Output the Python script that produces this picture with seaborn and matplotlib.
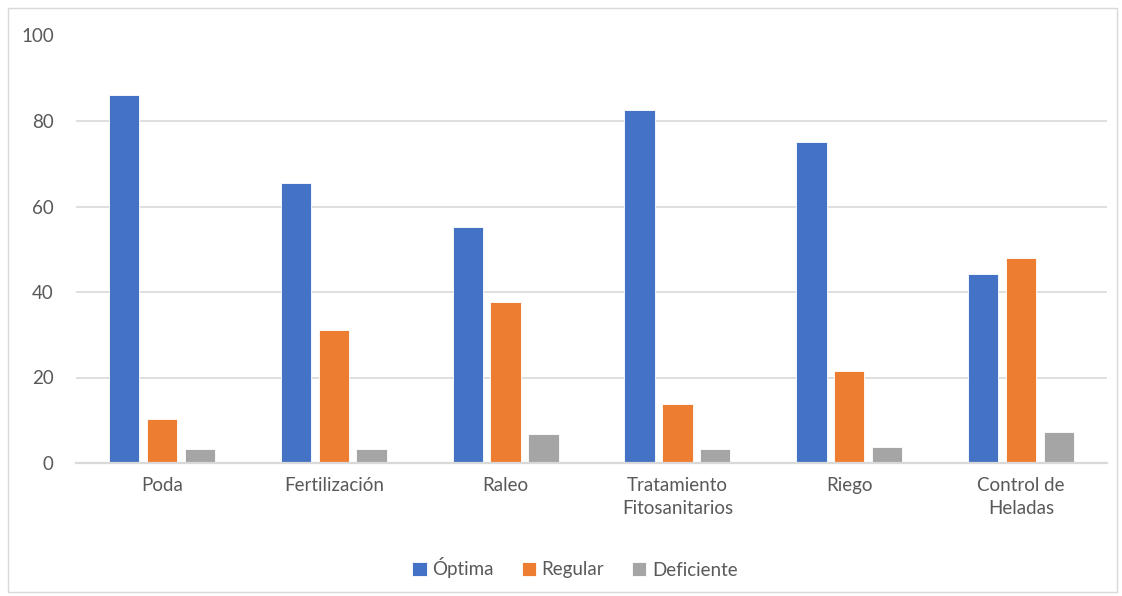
import matplotlib
matplotlib.use("Agg")
import matplotlib.pyplot as plt
import seaborn as sns
import pandas as pd
from matplotlib.patches import Rectangle

categories = ["Poda", "Fertilización", "Raleo", "Tratamiento\nFitosanitarios",
              "Riego", "Control de\nHeladas"]
series = ["Óptima", "Regular", "Deficiente"]
optima = [86.0, 65.5, 55.1, 82.5, 75.0, 44.2]
regular = [10.3, 31.1, 37.6, 13.7, 21.5, 48.0]
deficiente = [3.3, 3.3, 6.8, 3.3, 3.8, 7.2]
yticks = [0, 20, 40, 60, 80, 100]

df = pd.DataFrame({
    "Labor": categories * 3,
    "Serie": [s for s in series for _ in categories],
    "Valor": optima + regular + deficiente,
})

sns.set_theme(style="white")
plt.rcParams["font.family"] = ["Lato", "DejaVu Sans"]

palette = {"Óptima": "#4472C4", "Regular": "#ED7D31", "Deficiente": "#A5A5A5"}
text_color = "#595959"
grid_color = "#D9D9D9"

fig = plt.figure(figsize=(11.22, 5.96), dpi=100)
ax = fig.add_axes([76 / 1122, 1 - 463 / 596, (1107 - 76) / 1122, (463 - 35.5) / 596])

sns.barplot(data=df, x="Labor", y="Valor", hue="Serie", hue_order=series,
            order=categories, palette=palette, width=0.66, gap=0.2,
            edgecolor="white", linewidth=0.6, saturation=1, ax=ax, legend=True)

ax.set_ylim(0, 100)
ax.set_xlim(-0.5, len(categories) - 0.5)
ax.set_yticks(yticks)
ax.set_yticklabels([str(t) for t in yticks], color=text_color, fontsize=13.5)
ax.tick_params(axis="y", length=0, pad=16)
ax.tick_params(axis="x", length=0, pad=10, labelcolor=text_color, labelsize=13.5)
ax.yaxis.grid(True, color=grid_color, linewidth=1.2)
ax.set_axisbelow(True)
for side in ["left", "right", "top"]:
    ax.spines[side].set_visible(False)
ax.spines["bottom"].set_color(grid_color)
ax.spines["bottom"].set_linewidth(1.6)
ax.set_xlabel("")
ax.set_ylabel("")
for lbl in ax.get_xticklabels():
    lbl.set_linespacing(1.45)

handles, labels = ax.get_legend_handles_labels()
ax.get_legend().remove()
fig.legend(handles, labels, loc="center", bbox_to_anchor=(575 / 1122, 1 - 568 / 596),
           ncol=3, frameon=False, fontsize=13.5, handlelength=0.75, handleheight=0.75,
           handletextpad=0.3, columnspacing=1.5, labelcolor=text_color)

fig.patches.append(Rectangle((8 / 1122, 4 / 596), 1 - 13 / 1122, 1 - 12 / 596,
                             transform=fig.transFigure, fill=False,
                             edgecolor=grid_color, linewidth=1.0))

fig.savefig("out.png", dpi=100, facecolor="white")
